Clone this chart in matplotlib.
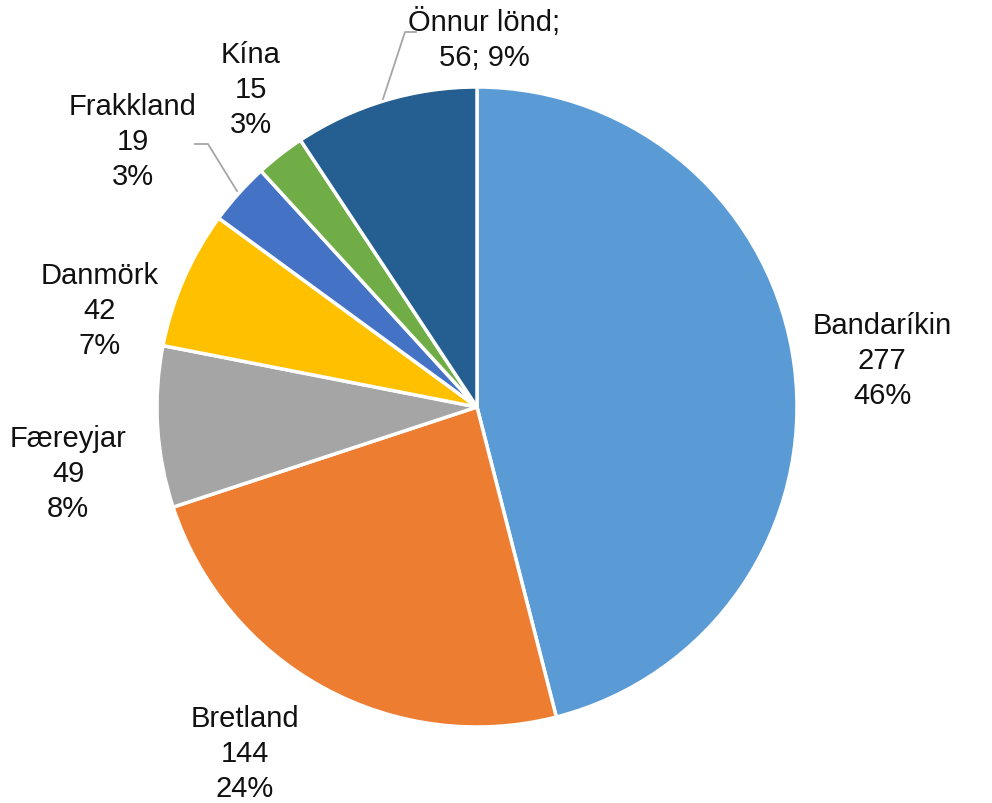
import matplotlib
matplotlib.use("Agg")
import matplotlib.pyplot as plt

# data
countries = ["Bandaríkin", "Bretland", "Færeyjar", "Danmörk", "Frakkland", "Kína", "Önnur lönd"]
values = [277, 144, 49, 42, 19, 15, 56]
pct_labels = ["46%", "24%", "8%", "7%", "3%", "3%", "9%"]

colors = ["#5B9BD5", "#ED7D31", "#A5A5A5", "#FFC000", "#4472C4", "#70AD47", "#255E91"]

# label centres in pixel space (y measured from top)
label_pos = [(882, 361), (245, 754), (68, 474), (100, 311), (133, 142), (251, 90), (484, 40)]

W, H = 992, 804
plt.rcParams["font.family"] = ["Liberation Sans", "DejaVu Sans"]

fig = plt.figure(figsize=(W / 100, H / 100), dpi=100)
ax = fig.add_axes([0, 0, 1, 1])

ax.pie(values, colors=colors, startangle=90, counterclock=False,
       center=(477, H - 408), radius=320, frame=True,
       wedgeprops=dict(edgecolor="white", linewidth=2.5))
ax.set_xlim(0, W)
ax.set_ylim(0, H)
ax.axis("off")

for name, val, pct, (x, y) in zip(countries, values, pct_labels, label_pos):
    if name == "Önnur lönd":
        txt = f"{name};\n{val}; {pct}"
    else:
        txt = f"{name}\n{val}\n{pct}"
    ax.text(x, H - y, txt, ha="center", va="center", fontsize=21,
            color="#111111", linespacing=1.3)

# leader lines
ax.plot([383, 405, 416], [H - 100, H - 33, H - 33], color="#A6A6A6", lw=1.3)
ax.plot([237, 208, 195], [H - 192, H - 145, H - 145], color="#A6A6A6", lw=1.3)

fig.savefig("out.png", dpi=100)
